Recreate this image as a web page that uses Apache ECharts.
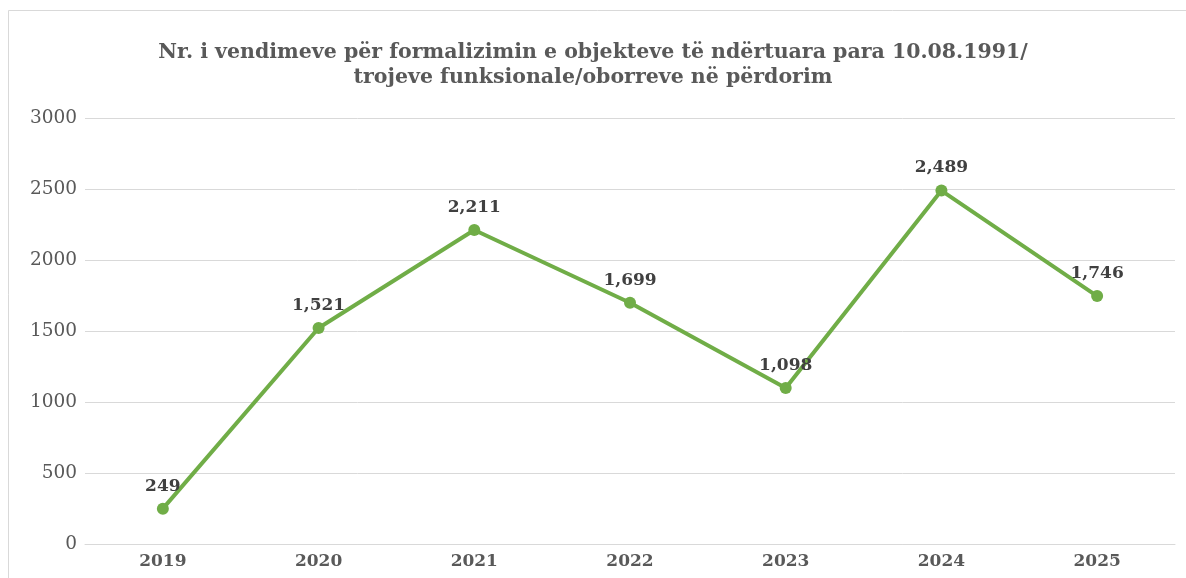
<!DOCTYPE html>
<html><head><meta charset="utf-8">
<script src="https://cdn.jsdelivr.net/npm/echarts@6/dist/echarts.min.js"></script>
<style>html,body{margin:0;padding:0;background:#fff}#c{width:1186px;height:578px}</style>
</head><body><div id="c"></div>
<script>
const categories = ['2019','2020','2021','2022','2023','2024','2025'];
const values = [249, 1521, 2211, 1699, 1098, 2489, 1746];
const yTicks = [0, 500, 1000, 1500, 2000, 2500, 3000];
const titleText = 'Nr. i vendimeve për formalizimin e objekteve të ndërtuara para 10.08.1991/\ntrojeve funksionale/oborreve në përdorim';

const chart = echarts.init(document.getElementById('c'));
const serif = '"DejaVu Serif", serif';
chart.setOption({
  animation: false,
  graphic: [{
    type: 'rect', left: 8, top: 10, z: -1,
    shape: { width: 1200, height: 600 },
    style: { fill: '#fff', stroke: '#d9d9d9', lineWidth: 1 }
  }],
  title: {
    text: titleText, left: 'center', top: 35,
    textStyle: { fontFamily: serif, fontWeight: 'bold', fontSize: 20.5, color: '#595959', lineHeight: 25 }
  },
  grid: { left: 85, right: 11, top: 118, bottom: 34 },
  xAxis: {
    type: 'category', data: categories, boundaryGap: true,
    axisLine: { show: true, lineStyle: { color: '#d9d9d9', width: 1 } },
    axisTick: { show: false },
    axisLabel: { fontFamily: serif, fontWeight: 'bold', fontSize: 17, color: '#595959', margin: 9 }
  },
  yAxis: {
    type: 'value', min: yTicks[0], max: yTicks[yTicks.length - 1], interval: 500,
    axisLine: { show: false }, axisTick: { show: false },
    splitLine: { lineStyle: { color: '#d9d9d9', width: 1 } },
    axisLabel: { fontFamily: serif, fontSize: 18.5, color: '#595959', margin: 8, formatter: v => String(v) }
  },
  series: [{
    type: 'line', data: values,
    symbol: 'circle', symbolSize: 12,
    lineStyle: { color: '#70AD47', width: 4 },
    itemStyle: { color: '#70AD47' },
    label: {
      show: true, position: 'top', distance: 8,
      fontFamily: serif, fontWeight: 'bold', fontSize: 17, color: '#404040',
      formatter: p => p.value.toLocaleString('en-US')
    }
  }]
});
</script></body></html>
